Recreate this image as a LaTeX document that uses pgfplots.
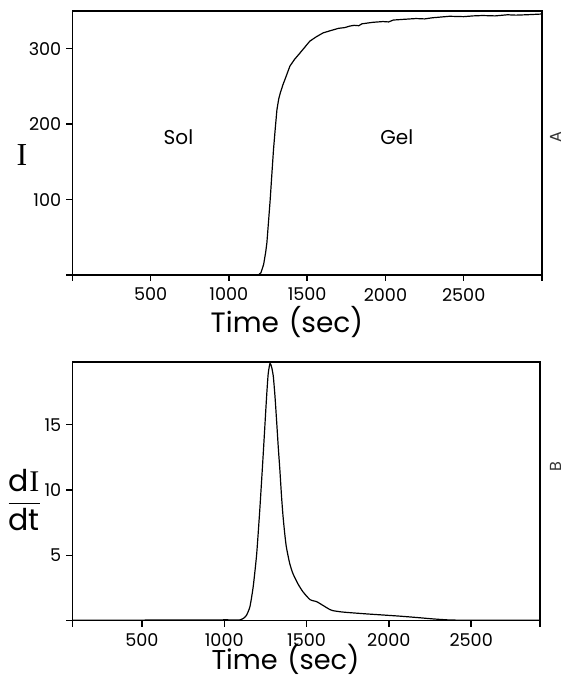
\documentclass[border=0pt]{standalone}
\usepackage{fontspec}
\setmainfont{Poppins}
\newfontfamily\serifI{Liberation Serif}
\usepackage{pgfplots}
\pgfplotsset{compat=1.18}

\pgfplotstableread{
t I
0 0
600 0
1000 0
1150 0
1188 0
1205 3
1222 14
1235 30
1243 43
1253 70
1264 100
1275 135
1285 166
1297 196
1307 219
1318 233
1328 241
1345 252
1365 263
1390 277
1420 286
1453 294
1485 302
1517 310
1560 316
1602 321
1650 324
1700 327
1740 328
1772 330
1800 331
1830 330.5
1850 333
1920 335
1984 336
2020 335.5
2050 338
2120 339
2196 340
2250 339.5
2300 341
2409 343
2500 342.5
2560 343.5
2621 344
2700 343.5
2780 345
2833 344.5
2900 345
2950 345.5
3000 346
}\topdata

\pgfplotstableread{
t d
77 0.02
500 0.03
1000 0.05
1095 0.05
1120 0.2
1136 0.42
1156 1.06
1176 2.6
1197 5.1
1217 8.7
1237 12.8
1257 17.1
1267 18.9
1278 19.7
1288 19.4
1298 18.7
1308 17.2
1318 15.3
1328 13.3
1338 11.5
1348 9.5
1357 8.0
1367 6.7
1377 5.65
1397 4.4
1417 3.6
1448 2.8
1478 2.2
1521 1.6
1560 1.45
1581 1.3
1612 1.06
1640 0.85
1662 0.75
1710 0.66
1764 0.6
1870 0.5
1966 0.42
2070 0.33
2169 0.23
2270 0.12
2370 0.04
2500 0.02
2918 0.02
}\botdata

\begin{document}
\begin{tikzpicture}
\useasboundingbox (0pt,0pt) rectangle (283pt,340pt);
\pgfplotsset{
  every axis/.append style={
    scale only axis,
    axis line style={line width=0.8pt},
    tick style={line width=0.7pt, black},
    major tick length=3pt,
    tick align=outside,
    xtick pos=left, ytick pos=left,
    /pgf/number format/assume math mode=true,
    ticklabel style={font=\fontsize{8.8}{10}\selectfont},
    xticklabel style={yshift=0pt},
    yticklabel style={xshift=1pt},
  }
}
% top panel
\begin{axis}[
  at={(36.15pt,202.5pt)}, anchor=south west,
  width=234.85pt, height=132pt,
  xmin=0, xmax=3000, ymin=0, ymax=350,
  xtick={0,500,1000,1500,2000,2500,3000},
  xticklabels={,500,1000,1500,2000,2500,},
  ytick={0,100,200,300},
  yticklabels={,100,200,300},
  xlabel={Time\hspace{0.35em}(sec)},
  xlabel style={font=\fontsize{14}{16}\selectfont, at={(axis description cs:0.457,-0.216)}, anchor=base},
  ylabel={\serifI I},
  ylabel style={font=\fontsize{16}{18}\selectfont, rotate=-90, at={(axis description cs:-0.107,0.4545)}, anchor=center},
]
\addplot[black, line width=0.6pt] table[x=t, y=I] {\topdata};
\node[font=\fontsize{10}{12}\selectfont] at (axis cs:678,183) {Sol};
\node[font=\fontsize{10}{12}\selectfont] at (axis cs:2073,183) {Gel};
\end{axis}
% bottom panel
\begin{axis}[
  at={(36.15pt,29.75pt)}, anchor=south west,
  width=233.85pt, height=129.25pt,
  xmin=77, xmax=2918, ymin=0, ymax=19.8,
  xtick={77,500,1000,1500,2000,2500,2918},
  xticklabels={,500,1000,1500,2000,2500,},
  ytick={0,5,10,15},
  yticklabels={,5,10,15},
  xlabel={Time\hspace{0.35em}(sec)},
  xlabel style={font=\fontsize{13.6}{16}\selectfont, at={(axis description cs:0.456,-0.19)}, anchor=base},
  ylabel={$\displaystyle\frac{\mbox{d{\serifI I}}}{\mbox{dt}}$},
  ylabel style={font=\fontsize{15}{17}\selectfont, rotate=-90, at={(axis description cs:-0.103,0.466)}, anchor=center},
]
\addplot[black, line width=0.6pt, smooth, tension=0.35] table[x=t, y=d] {\botdata};
\end{axis}
\node[rotate=90, font=\fontsize{8}{9}\selectfont, black!80] at (278pt,271.5pt) {A};
\node[rotate=90, font=\fontsize{8}{9}\selectfont, black!80] at (278pt,106.5pt) {B};
\end{tikzpicture}
\end{document}
